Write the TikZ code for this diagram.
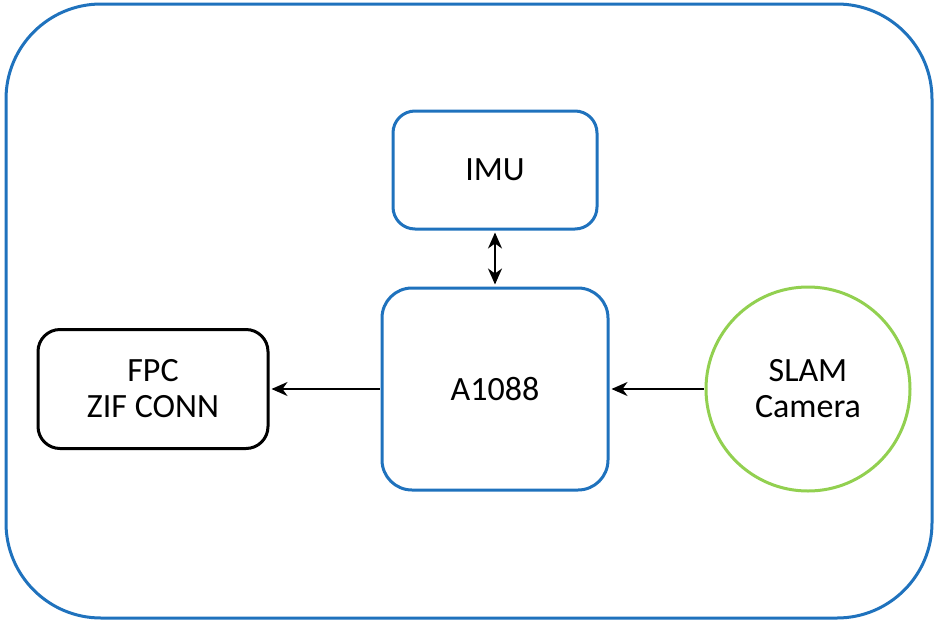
\documentclass[tikz,border=0pt]{standalone}
\usepackage{fontspec}
\setmainfont{Carlito}
\usetikzlibrary{arrows.meta,positioning,shapes.geometric}
\definecolor{boardblue}{RGB}{31,114,189}
\definecolor{camgreen}{RGB}{146,208,80}

\begin{document}
\begin{tikzpicture}[
      x=1pt, y=-1pt,
      every node/.style={font=\fontsize{34}{36}\selectfont, align=center},
      blk/.style={draw=boardblue, line width=3pt, rounded corners=22pt},
      arr/.style={-{Stealth[length=16pt,width=14pt,inset=5pt]}, line width=1.8pt, shorten >=2pt, shorten <=1pt}
    ]
      \useasboundingbox (0,0) rectangle (938,622);
      % module outline
      \draw[draw=boardblue, line width=3pt, rounded corners=95pt] (6,4) rectangle (932,618);

      \node[blk, minimum width=204pt, minimum height=118pt] (imu) at (495,170) {IMU};
      \node[blk, minimum width=226pt, minimum height=202pt, rounded corners=30pt] (soc) at (495,389) {A1088};
      \node[blk, draw=black, minimum width=230pt, minimum height=119pt] (fpc) at (153,389) {FPC\\ZIF CONN};
      \node[circle, draw=camgreen, line width=3pt, minimum size=204pt] (cam) at (808,389) {SLAM\\Camera};

      \draw[arr, {Stealth[length=16pt,width=14pt,inset=5pt]}-{Stealth[length=16pt,width=14pt,inset=5pt]}, shorten <=2pt] (imu) -- (soc);
      \draw[arr] (soc.west) -- (fpc.east);
      \draw[arr] (cam.west) -- (soc.east);
    \end{tikzpicture}
\end{document}
